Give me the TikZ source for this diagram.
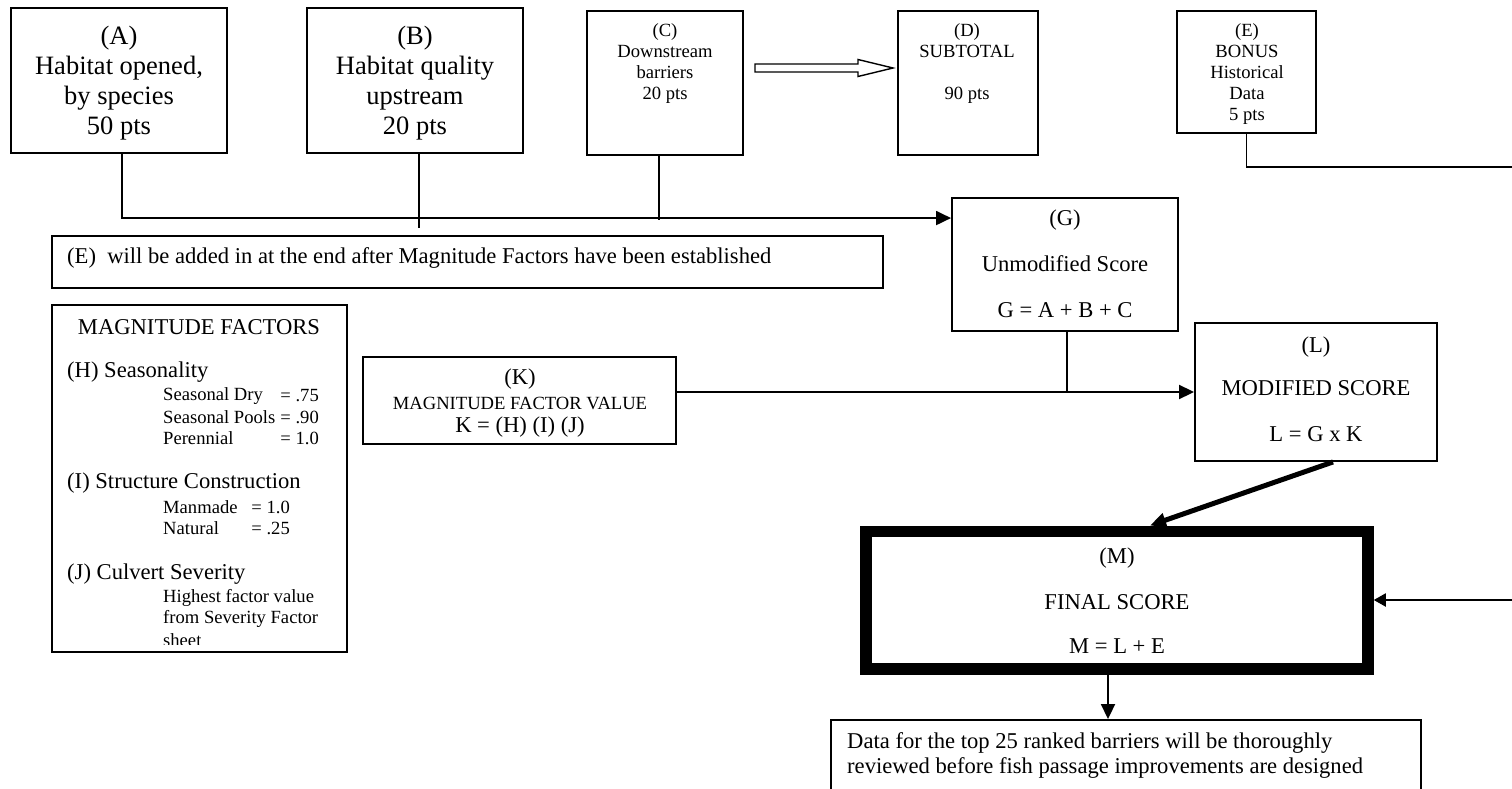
\documentclass[tikz,border=0pt]{standalone}
\usepackage{fontspec}
\setmainfont{Liberation Serif}
\usetikzlibrary{arrows.meta}
\begin{document}
\begin{tikzpicture}[x=1pt,y=-1pt,
  box/.style={draw, line width=1.9pt, inner sep=0pt},
  t26/.style={font=\fontsize{26.5}{30}\selectfont, inner sep=0pt, align=center},
  t22/.style={font=\fontsize{22.6}{25.5}\selectfont, inner sep=0pt, align=center},
  t18/.style={font=\fontsize{18.6}{21}\selectfont, inner sep=0pt, align=center},
  conn/.style={line width=1.9pt},
  tip/.style={-{Triangle[length=15pt,width=14pt]}},
  tipsmall/.style={-{Triangle[length=12pt,width=13pt]}}
]
\useasboundingbox (0,0) rectangle (1512,789);
\clip (0,0) rectangle (1512,789);
\fill[white] (0,0) rectangle (1512,789);

% top row
\node[box, minimum width=216pt, minimum height=145pt] (A) at (119,80.5) {};
\node[t26] (Atxt) at (119,83.5) {(A)\\Habitat opened,\\by species\\50 pts};
\node[box, minimum width=216pt, minimum height=145pt] (B) at (415,80.5) {};
\node[t26] (Btxt) at (415,83.5) {(B)\\Habitat quality\\upstream\\20 pts};
\node[box, minimum width=156pt, minimum height=144pt] (C) at (665,83) {};
\node[t18] (Ctxt) at (665,64) {(C)\\Downstream\\barriers\\20 pts};
\node[box, minimum width=140pt, minimum height=144pt] (D) at (968,83) {};
\node[t18] (Dtxt) at (967,64) {(D)\\SUBTOTAL\\[21pt]90 pts};
\node[box, minimum width=139pt, minimum height=122pt] (E) at (1246.5,72) {};
\node[t18] (Etxt) at (1247,74) {(E)\\BONUS\\Historical\\Data\\5 pts};

% hollow arrow C -> D
\draw[line width=1.4pt, fill=white] (755,64) -- (858,64) -- (858,59.5) -- (893,68) -- (858,76.5) -- (858,72) -- (755,72) -- cycle;

% note box
\node[box, minimum width=831pt, minimum height=52pt] (note) at (467.5,262) {};
\node[t22, anchor=west] (notetxt) at (67,258) {(E)\ \ will be added in at the end after Magnitude Factors have been established};

% G
\node[box, minimum width=226pt, minimum height=133pt] (G) at (1065,264.5) {};
\node[t22] (G1) at (1065,220) {(G)};
\node[t22] (G2) at (1065,264) {Unmodified Score};
\node[t22] (G3) at (1065,310) {G = A + B + C};

% magnitude factors
\node[box, minimum width=295pt, minimum height=347pt] (MF) at (199.5,478.5) {};
\node[t22] (mf0) at (199,327) {MAGNITUDE FACTORS};
\node[t22, anchor=west] (mfH) at (67,372) {(H) Seasonality};
\node[t18, anchor=west] (mfH1) at (163,396) {Seasonal Dry};
\node[t18, anchor=east] (mfH1v) at (319,396) {= .75};
\node[t18, anchor=west] (mfH2) at (163,417) {Seasonal Pools};
\node[t18, anchor=east] (mfH2v) at (319,417) {= .90};
\node[t18, anchor=west] (mfH3) at (163,438) {Perennial};
\node[t18, anchor=east] (mfH3v) at (319,438) {= 1.0};
\node[t22, anchor=west] (mfI) at (67,483) {(I) Structure Construction};
\node[t18, anchor=west] (mfI1) at (163,507) {Manmade};
\node[t18, anchor=east] (mfI1v) at (290,507) {= 1.0};
\node[t18, anchor=west] (mfI2) at (163,528) {Natural};
\node[t18, anchor=east] (mfI2v) at (290,528) {= .25};
\node[t22, anchor=west] (mfJ) at (67,574) {(J) Culvert Severity};
\node[t18, anchor=west] (mfJ1) at (163,598) {Highest factor value};
\node[t18, anchor=west] (mfJ2) at (163,619) {from Severity Factor};
\begin{scope}
  \clip (53,600) rectangle (346,644);
  \node[t18, anchor=west] (mfJ3) at (163,640) {sheet};
\end{scope}

% K
\node[box, minimum width=313pt, minimum height=87pt] (K) at (519.5,400.5) {};
\node[t22] (K1) at (520,379) {(K)};
\node[t18] (K2) at (520,403) {MAGNITUDE FACTOR VALUE};
\node[t22] (K3) at (520,427) {K = (H) (I) (J)};

% L
\node[box, minimum width=242pt, minimum height=138pt] (L) at (1316,392) {};
\node[t22] (L1) at (1316,347) {(L)};
\node[t22] (L2) at (1316,388) {MODIFIED SCORE};
\node[t22] (L3) at (1316,434) {L = G x K};

% M
\node[draw, line width=11.5pt, inner sep=0pt, minimum width=502pt, minimum height=137.5pt] (M) at (1117,600) {};
\node[t22] (M1) at (1117,558) {(M)};
\node[t22] (M2) at (1117,602) {FINAL SCORE};
\node[t22] (M3) at (1117,646) {M = L + E};

% bottom box
\node[box, minimum width=590pt, minimum height=100pt] (Z) at (1126,770) {};
\node[t22, anchor=west] (Z1) at (847,743) {Data for the top 25 ranked barriers will be thoroughly};
\node[t22, anchor=west] (Z2) at (847,768) {reviewed before fish passage improvements are designed};

% connectors
\draw[conn, tip] ([xshift=3pt]A.south) |- ([yshift=-21pt]G.north west);
\draw[conn] ([xshift=4pt]B.south) -- ++(0,74);
\draw[conn] ([xshift=-6pt]C.south) -- ++(0,64);
\coordinate (eR) at (1530,167);
\draw[conn, tipsmall] (E.south) |- (eR) |- (M.east);
\draw[conn] ([xshift=2pt]G.south) -- ++(0,61);
\draw[conn, tip] (K.east |- L.west) -- (L.west);
\draw[line width=5pt, -{Triangle[length=16pt,width=14pt]}] ([xshift=17pt]L.south) -- ([xshift=33pt]M.north);
\draw[conn, tip] ([xshift=-9pt]M.south) -- ([xshift=-9pt]M.south |- Z.north);
\end{tikzpicture}
\end{document}
